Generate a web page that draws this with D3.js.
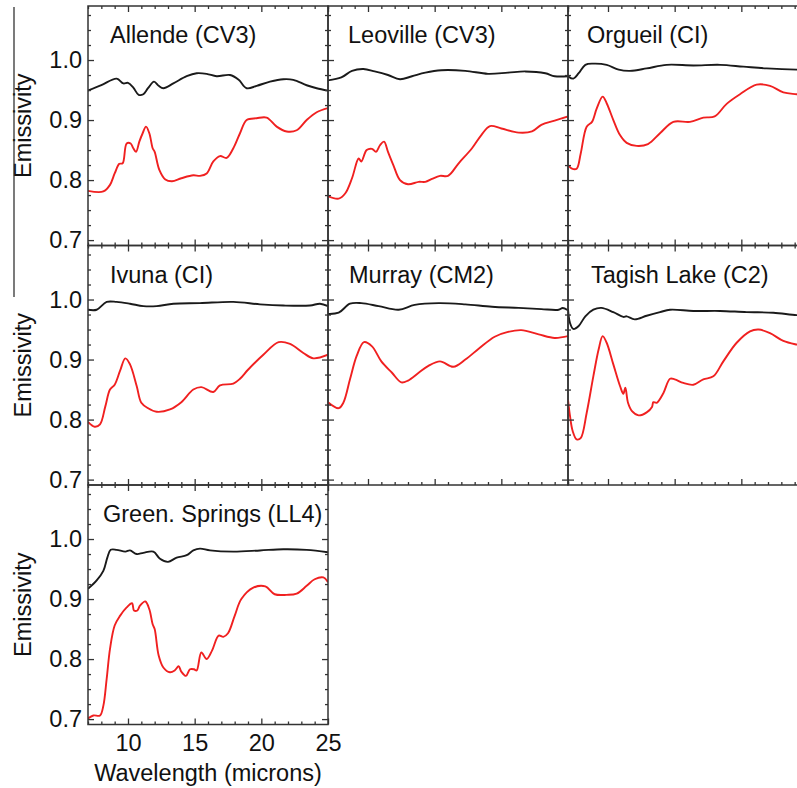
<!DOCTYPE html>
<html><head><meta charset="utf-8">
<script src="https://cdn.jsdelivr.net/npm/d3@7"></script>
<style>body{margin:0;background:#fff}svg{display:block}</style></head>
<body>
<script>
// ---------- data ----------
const panelTitles = ["Allende (CV3)", "Leoville (CV3)", "Orgueil (CI)", "Ivuna (CI)", "Murray (CM2)", "Tagish Lake (C2)", "Green. Springs (LL4)"];
const wavelengthTicks = [10, 15, 20, 25];
const emissivityTicks = [0.7, 0.8, 0.9, 1.0];

const allendeBlack = [[7.0,.949],[8.0,.958],[9.15,.969],[9.65,.961],[10.0,.962],[10.4,.954],[10.8,.942],[11.15,.943],[11.5,.953],[11.95,.964],[12.3,.957],[12.65,.953],[13.4,.961],[14.4,.973],[15.15,.978],[15.9,.977],[16.65,.973],[17.65,.975],[18.3,.967],[18.9,.953],[19.65,.957],[20.65,.964],[21.65,.968],[22.4,.967],[23.4,.958],[24.15,.953],[25.0,.949]];
const allendeRed = [[7.0,.782],[8.15,.781],[8.65,.792],[9.0,.811],[9.35,.827],[9.6,.828],[9.9,.861],[10.2,.861],[10.4,.853],[10.6,.847],[10.85,.864],[11.1,.878],[11.35,.889],[11.6,.878],[11.85,.853],[12.0,.847],[12.35,.817],[12.8,.801],[13.3,.798],[14.0,.803],[14.9,.808],[15.4,.807],[15.9,.811],[16.4,.831],[16.9,.840],[17.4,.837],[17.9,.853],[18.4,.878],[18.9,.900],[19.65,.903],[20.4,.904],[21.15,.889],[21.9,.881],[22.65,.883],[23.4,.900],[24.15,.913],[25.0,.920]];

const leovilleBlack = [[7.0,.966],[8.0,.971],[8.8,.982],[9.65,.985],[10.5,.981],[11.5,.975],[12.4,.968],[13.3,.973],[14.3,.979],[15.5,.983],[17.3,.982],[19.0,.977],[20.5,.979],[21.8,.981],[23.3,.978],[24.0,.973],[25.0,.973]];
const leovilleRed = [[7.0,.773],[7.8,.769],[8.3,.778],[8.8,.803],[9.3,.836],[9.5,.831],[9.9,.850],[10.3,.852],[10.6,.847],[10.9,.858],[11.2,.864],[11.5,.847],[11.9,.825],[12.4,.800],[13.0,.793],[13.8,.797],[14.3,.797],[14.8,.802],[15.4,.807],[16.0,.807],[16.8,.828],[17.8,.853],[18.5,.875],[19.15,.890],[20.0,.886],[21.3,.879],[22.3,.881],[23.0,.892],[24.0,.899],[25.0,.906]];

const orgueilBlack = [[7.0,.973],[7.4,.969],[7.8,.978],[8.3,.992],[8.9,.994],[9.9,.992],[10.8,.984],[11.65,.982],[12.9,.986],[14.4,.992],[16.4,.991],[18.4,.992],[20.15,.989],[21.9,.986],[24.15,.984],[25.0,.984]];
const orgueilRed = [[7.0,.825],[7.3,.819],[7.65,.819],[7.95,.844],[8.4,.889],[8.8,.897],[9.15,.919],[9.6,.939],[9.9,.928],[10.4,.900],[10.9,.875],[11.4,.862],[12.15,.857],[13.0,.860],[13.9,.878],[14.9,.897],[16.15,.897],[17.15,.904],[18.0,.906],[18.9,.927],[19.9,.943],[21.15,.959],[22.15,.957],[23.15,.946],[24.15,.943],[25.0,.941]];

const ivunaBlack = [[7.0,.983],[7.65,.983],[8.4,.996],[9.15,.996],[10.15,.993],[11.15,.989],[12.15,.989],[13.4,.993],[15.4,.994],[17.9,.996],[19.9,.992],[21.65,.990],[23.65,.990],[24.4,.993],[25.0,.989]];
const ivunaRed = [[7.0,.796],[7.5,.788],[7.9,.792],[8.3,.822],[8.65,.850],[9.0,.858],[9.4,.881],[9.8,.902],[10.15,.892],[10.65,.856],[11.0,.828],[11.5,.819],[12.15,.813],[13.15,.817],[14.0,.829],[14.9,.850],[15.5,.854],[16.4,.846],[16.9,.857],[17.9,.860],[18.4,.868],[19.0,.883],[20.15,.908],[21.3,.929],[22.15,.926],[23.15,.911],[23.9,.902],[25.0,.908]];

const murrayBlack = [[7.0,.976],[7.8,.978],[8.65,.993],[9.5,.994],[10.8,.989],[12.3,.983],[13.5,.991],[15.3,.994],[17.3,.992],[19.3,.988],[21.3,.986],[23.0,.984],[24.3,.983],[24.6,.986],[25.0,.982]];
const murrayRed = [[7.0,.829],[7.8,.819],[8.15,.828],[8.65,.867],[9.15,.906],[9.7,.929],[10.3,.922],[11.0,.897],[11.8,.878],[12.5,.862],[13.0,.865],[13.8,.878],[14.5,.889],[15.4,.897],[16.4,.888],[17.3,.900],[18.3,.918],[19.5,.938],[20.5,.946],[21.5,.949],[22.8,.942],[24.0,.936],[25.0,.939]];

const tagishBlack = [[7.0,.984],[7.15,.961],[7.4,.951],[7.8,.956],[8.3,.972],[8.9,.983],[9.5,.986],[10.4,.979],[11.15,.971],[11.4,.972],[12.0,.967],[12.9,.973],[13.9,.979],[14.65,.983],[16.4,.981],[18.4,.981],[20.4,.979],[22.4,.978],[24.15,.974],[25.0,.974]];
const tagishRed = [[7.0,.833],[7.15,.806],[7.35,.781],[7.65,.767],[7.95,.769],[8.4,.811],[8.9,.872],[9.3,.917],[9.6,.939],[9.9,.928],[10.4,.892],[10.9,.856],[11.15,.843],[11.3,.853],[11.5,.828],[11.8,.814],[12.3,.807],[12.9,.812],[13.3,.821],[13.4,.829],[13.65,.828],[14.15,.844],[14.65,.868],[15.0,.867],[15.65,.861],[16.4,.858],[17.15,.867],[17.9,.872],[18.65,.897],[19.65,.928],[20.65,.947],[21.3,.950],[22.15,.944],[23.15,.931],[24.15,.925],[25.0,.922]];

const greenBlack = [[7.0,.917],[7.65,.931],[8.15,.947],[8.45,.969],[8.7,.982],[9.15,.982],[9.8,.979],[10.15,.981],[10.65,.975],[11.15,.977],[11.9,.979],[12.4,.967],[13.0,.962],[13.65,.969],[14.4,.973],[14.9,.981],[15.4,.984],[16.15,.981],[17.9,.979],[19.9,.981],[21.65,.983],[23.4,.982],[25.0,.978]];
const greenRed = [[7.0,.701],[7.4,.706],[7.9,.706],[8.15,.722],[8.4,.767],[8.65,.817],[9.0,.856],[9.4,.872],[9.9,.886],[10.3,.893],[10.45,.881],[10.7,.881],[10.9,.889],[11.3,.896],[11.6,.883],[11.85,.858],[12.0,.850],[12.3,.806],[12.65,.786],[13.15,.778],[13.5,.781],[13.8,.788],[14.0,.779],[14.35,.772],[14.65,.783],[14.95,.783],[15.15,.781],[15.5,.811],[15.9,.800],[16.3,.814],[16.8,.839],[17.15,.837],[17.5,.843],[18.0,.872],[18.5,.900],[19.4,.919],[20.3,.921],[21.0,.908],[21.9,.907],[22.65,.909],[23.4,.922],[24.0,.933],[24.65,.936],[25.0,.928]];

const blackSeries = [allendeBlack, leovilleBlack, orgueilBlack, ivunaBlack, murrayBlack, tagishBlack, greenBlack];
const redSeries = [allendeRed, leovilleRed, orgueilRed, ivunaRed, murrayRed, tagishRed, greenRed];

// ---------- layout ----------
const W = 797, H = 788;
const left0 = 88, top0 = 6, pw = 240, ph = 239.5;
const titleDx = [22, 20, 19, 22, 21, 23, 15];
const fs = 23.5;
const font = "'Liberation Sans', Arial, Helvetica, sans-serif";

const svg = d3.select("body").append("svg").attr("width", W).attr("height", H)
  .style("font-family", font);

const x = d3.scaleLinear().domain([7, 25]).range([0, pw]);
const y = d3.scaleLinear().domain([0.691, 1.09]).range([ph, 0]);
const line = d3.line().x(d => x(d[0])).y(d => y(d[1])).curve(d3.curveCatmullRom.alpha(0.5));

const xMinor = d3.range(7, 26, 1).filter(v => v % 5 !== 0);
const yMinor = d3.range(0.7, 1.09, 0.025).filter(v => Math.abs(v * 10 - Math.round(v * 10)) > 1e-6);

function styleAxis(g) {
  g.select(".domain").remove();
  g.selectAll(".tick line").attr("stroke", "#333").attr("stroke-width", 1.3);
  g.selectAll(".tick text").remove();
}

panelTitles.forEach((title, i) => {
  const col = i % 3, row = Math.floor(i / 3);
  const g = svg.append("g").attr("transform", `translate(${left0 + col * pw},${top0 + row * ph})`);
  const clipId = "clip" + i;
  g.append("clipPath").attr("id", clipId).append("rect").attr("width", pw).attr("height", ph);

  const plot = g.append("g").attr("clip-path", `url(#${clipId})`);
  plot.append("path").datum(blackSeries[i]).attr("d", line)
    .attr("fill", "none").attr("stroke", "#1a1a1a").attr("stroke-width", 1.9);
  plot.append("path").datum(redSeries[i]).attr("d", line)
    .attr("fill", "none").attr("stroke", "#f02020").attr("stroke-width", 1.9);

  // inward ticks on all four sides
  [[wavelengthTicks, 6], [xMinor, 3]].forEach(([vals, len]) => {
    g.append("g").attr("transform", `translate(0,${ph})`)
      .call(d3.axisTop(x).tickValues(vals).tickSize(len)).call(styleAxis);
    g.append("g").call(d3.axisBottom(x).tickValues(vals).tickSize(len)).call(styleAxis);
  });
  [[emissivityTicks, 6], [yMinor, 3]].forEach(([vals, len]) => {
    g.append("g").call(d3.axisRight(y).tickValues(vals).tickSize(len)).call(styleAxis);
    g.append("g").attr("transform", `translate(${pw},0)`)
      .call(d3.axisLeft(y).tickValues(vals).tickSize(len)).call(styleAxis);
  });

  g.append("rect").attr("width", pw).attr("height", ph)
    .attr("fill", "none").attr("stroke", "#333").attr("stroke-width", 1.5);

  g.append("text").attr("x", titleDx[i]).attr("y", 37)
    .attr("font-size", fs).attr("fill", "#111").text(title);

  if (col === 0) {
    const ya = g.append("g").call(d3.axisLeft(y).tickValues(emissivityTicks).tickSize(0).tickPadding(6).tickFormat(d3.format(".1f")));
    ya.select(".domain").remove();
    ya.selectAll("text").attr("font-size", fs).attr("fill", "#111").style("font-family", font);
    g.append("text").attr("transform", `translate(${31 - left0},${ph / 2}) rotate(-90)`)
      .attr("text-anchor", "middle").attr("font-size", fs).attr("fill", "#111").text("Emissivity");
  }
  if (i === 6) {
    const xa = g.append("g").attr("transform", `translate(0,${ph})`)
      .call(d3.axisBottom(x).tickValues(wavelengthTicks).tickSize(0).tickPadding(10).tickFormat(d3.format("d")));
    xa.select(".domain").remove();
    xa.selectAll("text").attr("font-size", fs).attr("fill", "#111").style("font-family", font);
    g.append("text").attr("x", pw / 2).attr("y", ph + 56).attr("text-anchor", "middle")
      .attr("font-size", fs).attr("fill", "#111").text("Wavelength (microns)");
  }
});

// thin stray bracket line at far left (present in the reference figure)
svg.append("line").attr("x1", 14).attr("x2", 14).attr("y1", 7).attr("y2", 297)
  .attr("stroke", "#222").attr("stroke-width", 1.2);
</script>
</body></html>
